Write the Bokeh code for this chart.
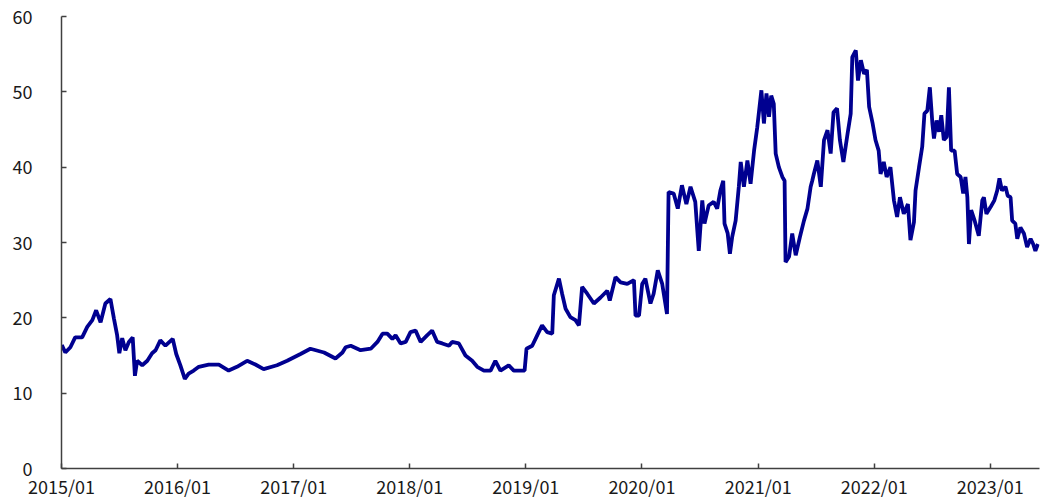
import pandas as pd
from bokeh.plotting import figure
from bokeh.models import Range1d, FixedTicker, DatetimeTickFormatter
from bokeh.embed import file_html
from bokeh.resources import INLINE

dates = [
    "2015-01-02", "2015-01-13", "2015-01-29", "2015-02-13", "2015-03-07", "2015-03-23",
    "2015-04-08", "2015-04-20", "2015-05-04", "2015-05-19", "2015-06-04", "2015-06-15",
    "2015-06-25", "2015-07-02", "2015-07-11", "2015-07-21", "2015-08-01", "2015-08-13",
    "2015-08-20", "2015-08-27", "2015-09-12", "2015-09-28", "2015-10-13", "2015-10-24",
    "2015-11-08", "2015-11-24", "2015-12-17", "2015-12-28",
    "2016-01-10", "2016-01-24", "2016-02-05", "2016-02-21", "2016-03-08", "2016-04-08",
    "2016-05-10", "2016-06-10", "2016-07-06", "2016-08-07", "2016-09-02", "2016-09-28",
    "2016-11-09", "2016-12-11",
    "2017-01-22", "2017-02-22", "2017-04-06", "2017-05-12", "2017-06-03", "2017-06-13",
    "2017-06-29", "2017-07-30", "2017-08-31", "2017-09-21", "2017-10-07", "2017-10-22",
    "2017-11-07", "2017-11-17", "2017-12-03", "2017-12-19",
    "2018-01-03", "2018-01-19", "2018-02-04", "2018-02-25", "2018-03-12", "2018-03-28",
    "2018-04-13", "2018-05-04", "2018-05-14", "2018-06-04", "2018-06-25", "2018-07-16",
    "2018-08-01", "2018-08-22", "2018-09-12", "2018-09-27", "2018-10-13", "2018-11-08",
    "2018-11-24", "2018-12-28",
    "2019-01-03", "2019-01-21", "2019-02-06", "2019-02-21", "2019-03-09", "2019-03-25",
    "2019-03-30", "2019-04-15", "2019-04-25", "2019-05-06", "2019-05-21", "2019-06-06",
    "2019-06-17", "2019-06-27", "2019-07-13", "2019-08-03", "2019-08-24", "2019-09-14",
    "2019-09-22", "2019-10-10", "2019-10-26", "2019-11-16", "2019-12-07", "2019-12-12",
    "2019-12-23",
    "2020-01-02", "2020-01-12", "2020-01-28", "2020-02-07", "2020-02-20", "2020-03-05",
    "2020-03-20", "2020-03-25", "2020-04-10", "2020-04-23", "2020-05-06", "2020-05-20",
    "2020-06-02", "2020-06-17", "2020-06-28", "2020-07-09", "2020-07-16", "2020-07-29",
    "2020-08-14", "2020-08-25", "2020-09-04", "2020-09-13", "2020-09-17", "2020-09-27",
    "2020-10-04", "2020-10-11", "2020-10-22", "2020-11-01", "2020-11-07", "2020-11-17",
    "2020-11-28", "2020-12-08", "2020-12-19", "2020-12-29",
    "2021-01-11", "2021-01-19", "2021-01-27", "2021-02-04", "2021-02-11", "2021-02-19",
    "2021-02-25", "2021-03-07", "2021-03-18", "2021-03-25", "2021-03-28", "2021-04-08",
    "2021-04-18", "2021-04-29", "2021-05-12", "2021-05-25", "2021-06-05", "2021-06-15",
    "2021-06-20", "2021-06-25", "2021-07-06", "2021-07-17", "2021-07-27", "2021-08-07",
    "2021-08-17", "2021-08-26", "2021-09-06", "2021-09-15", "2021-09-26", "2021-10-09",
    "2021-10-19", "2021-10-24", "2021-11-04", "2021-11-11", "2021-11-20", "2021-11-30",
    "2021-12-09", "2021-12-16", "2021-12-27",
    "2022-01-05", "2022-01-15", "2022-01-21", "2022-01-31", "2022-02-09", "2022-02-21",
    "2022-03-04", "2022-03-14", "2022-03-23", "2022-04-04", "2022-04-17", "2022-04-25",
    "2022-05-06", "2022-05-11", "2022-05-22", "2022-06-01", "2022-06-08", "2022-06-17",
    "2022-06-25", "2022-07-03", "2022-07-08", "2022-07-16", "2022-07-24", "2022-07-31",
    "2022-08-08", "2022-08-17", "2022-08-24", "2022-08-31", "2022-09-11", "2022-09-19",
    "2022-09-30", "2022-10-08", "2022-10-15", "2022-10-21", "2022-10-26", "2022-11-02",
    "2022-11-13", "2022-11-26", "2022-12-07", "2022-12-12", "2022-12-20",
    "2023-01-02", "2023-01-14", "2023-01-23", "2023-01-30", "2023-02-07", "2023-02-18",
    "2023-02-25", "2023-03-06", "2023-03-11", "2023-03-21", "2023-03-27", "2023-04-06",
    "2023-04-17", "2023-04-27", "2023-05-08", "2023-05-16", "2023-05-23", "2023-05-31",
]

values = [
    16.4, 15.4, 16.1, 17.4, 17.4, 18.8,
    19.7, 21.0, 19.4, 21.9, 22.5, 19.9,
    17.7, 15.3, 17.3, 15.7, 16.8, 17.4,
    12.3, 14.3, 13.7, 14.3, 15.3, 15.7,
    17.0, 16.3, 17.2, 15.2,
    13.7, 11.9, 12.6, 13.0, 13.5, 13.8,
    13.8, 13.0, 13.5, 14.3, 13.8, 13.2,
    13.7, 14.3,
    15.2, 15.9, 15.4, 14.6, 15.4, 16.1,
    16.3, 15.7, 15.9, 16.8, 17.9, 17.9,
    17.2, 17.7, 16.6, 16.8,
    18.1, 18.3, 16.8, 17.7, 18.3, 16.8,
    16.6, 16.3, 16.8, 16.6, 15.0, 14.3,
    13.5, 13.0, 13.0, 14.3, 13.0, 13.7,
    13.0, 13.0,
    15.9, 16.3, 17.7, 19.0, 18.1, 17.9,
    23.0, 25.2, 23.2, 21.2, 20.1, 19.7,
    19.0, 24.1, 23.2, 21.9, 22.7, 23.6,
    22.3, 25.4, 24.7, 24.5, 25.0, 20.3,
    20.3,
    24.5, 25.2, 21.9, 23.2, 26.3, 24.5,
    20.5, 36.7, 36.5, 34.5, 37.6, 35.1,
    37.4, 35.4, 28.9, 35.6, 32.5, 34.9,
    35.4, 34.5, 36.9, 38.2, 32.5, 31.2,
    28.5, 30.7, 32.9, 37.4, 40.7, 37.4,
    40.9, 37.8, 42.2, 45.3,
    50.2, 45.8, 49.8, 46.7, 49.5, 48.4,
    41.8, 40.0, 38.7, 38.2, 27.4, 28.1,
    31.2, 28.3, 30.7, 32.9, 34.5, 37.4,
    38.2, 39.1, 40.9, 37.4, 43.6, 44.9,
    41.8, 47.3, 47.8, 43.6, 40.7, 44.4,
    47.1, 54.6, 55.5, 51.5, 54.2, 52.4,
    52.9, 48.0, 45.8,
    43.6, 42.2, 39.1, 40.7, 38.7, 40.0,
    35.6, 33.4, 36.0, 33.8, 35.1, 30.3,
    32.7, 36.9, 40.0, 42.7, 47.1, 47.5,
    50.6, 45.8, 43.8, 46.2, 44.7, 46.9,
    43.6, 44.0, 50.6, 42.2, 42.2, 39.1,
    38.7, 36.5, 38.7, 36.0, 29.8, 34.3,
    32.9, 30.9, 35.6, 36.0, 33.8,
    34.7, 35.6, 36.9, 38.5, 36.9, 37.4,
    36.2, 36.0, 32.9, 32.5, 30.5, 32.0,
    31.2, 29.4, 30.5, 29.8, 28.9, 29.8,
]

year_ticks = ["2015-01-01", "2016-01-01", "2017-01-01", "2018-01-01", "2019-01-01",
              "2020-01-01", "2021-01-01", "2022-01-01", "2023-01-01"]
y_ticks = [0, 10, 20, 30, 40, 50, 60]

x = pd.to_datetime(dates)
tick_ms = [pd.Timestamp(d).value / 1e6 for d in year_ticks]

FONT = "Noto Sans CJK SC"

p = figure(width=1041, height=501, output_backend="svg", toolbar_location=None,
           x_axis_type="datetime",
           x_range=Range1d(pd.Timestamp("2015-01-01"), pd.Timestamp("2023-06-05")),
           y_range=Range1d(0, 60),
           min_border_left=61, min_border_right=2, min_border_top=16, min_border_bottom=33)
p.outline_line_color = None
p.grid.visible = False
p.background_fill_color = "white"
p.border_fill_color = "white"

p.line(x, values, line_color="#000090", line_width=3.8)

p.xaxis.ticker = FixedTicker(ticks=tick_ms)
fmt = "%Y/%m"
p.xaxis.formatter = DatetimeTickFormatter(years=fmt, months=fmt, days=fmt, hours=fmt,
                                          minutes=fmt, seconds=fmt, milliseconds=fmt,
                                          microseconds=fmt, minsec=fmt, hourmin=fmt)
p.yaxis.ticker = FixedTicker(ticks=y_ticks)

for ax in (p.xaxis[0], p.yaxis[0]):
    ax.axis_line_color = "#404040"
    ax.axis_line_width = 1.5
    ax.major_tick_line_color = "#404040"
    ax.major_tick_line_width = 1.5
    ax.major_tick_in = 5
    ax.major_tick_out = 0
    ax.minor_tick_line_color = None
    ax.major_label_text_font = FONT
    ax.major_label_text_font_size = "18px"
    ax.major_label_text_color = "#1a1a1a"

p.yaxis.major_label_standoff = 29
p.xaxis.major_label_standoff = 4
p.xaxis.major_label_text_line_height = 1.0

open("out.html", "w").write(file_html(p, INLINE))
